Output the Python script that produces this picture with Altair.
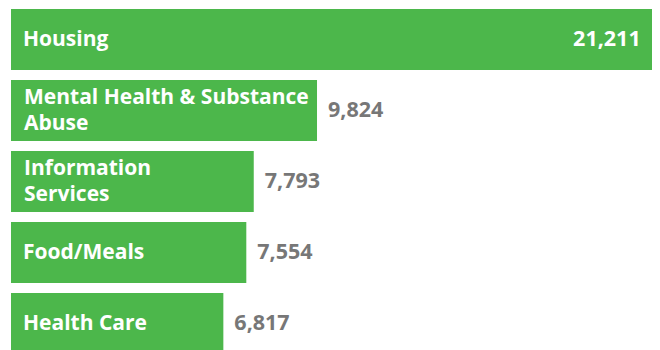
import altair as alt
import pandas as pd

categories = ["Housing", "Mental Health & Substance\nAbuse", "Information\nServices", "Food/Meals", "Health Care"]
values = [21211, 9824, 7793, 7554, 6817]
value_labels = ["21,211", "9,824", "7,793", "7,554", "6,817"]

df = pd.DataFrame({"category": categories, "value": values, "label": value_labels})
df["lines"] = df["category"].str.count("\n") + 1

FONT = "Open Sans"
GREEN = "#4cb74b"
LFS = 21
VFS = 21.5

y = alt.Y("category:N", sort=categories, axis=None,
          scale=alt.Scale(paddingInner=10/71, paddingOuter=1/71))
x = alt.X("value:Q", axis=None, scale=alt.Scale(domain=[0, 20578], nice=False, zero=True))

base = alt.Chart(df)

bars = base.mark_bar(color=GREEN, clip=True).encode(x=x, y=y)

cat1 = base.transform_filter("datum.lines == 1").mark_text(
    align="left", baseline="middle", dx=12, color="white",
    font=FONT, fontWeight="bold", fontSize=LFS).encode(
    x=alt.value(0), y=y, text="category:N")

cat2 = base.transform_filter("datum.lines == 2").mark_text(
    align="left", baseline="middle", dx=13, dy=-13, color="white",
    font=FONT, fontWeight="bold", fontSize=LFS,
    lineBreak="\n", lineHeight=26).encode(
    x=alt.value(0), y=y, text="category:N")

out_text = base.transform_filter("datum.value < 15000").mark_text(
    align="left", baseline="middle", dx=11, color="#777777",
    font=FONT, fontWeight="bold", fontSize=VFS).encode(x=x, y=y, text="label:N")

in_text = base.transform_filter("datum.value >= 15000").mark_text(
    align="right", baseline="middle", dx=-31, color="white",
    font=FONT, fontWeight="bold", fontSize=VFS).encode(x=x, y=y, text="label:N")

chart = alt.layer(bars, cat1, cat2, out_text, in_text).properties(
    width=641, height=347,
    autosize=alt.AutoSizeParams(type="none"),
    padding={"left": 3, "top": 0, "right": 0, "bottom": 0},
).configure_view(stroke=None)

chart.save("out.html", embed_options={"renderer": "svg", "actions": False})
